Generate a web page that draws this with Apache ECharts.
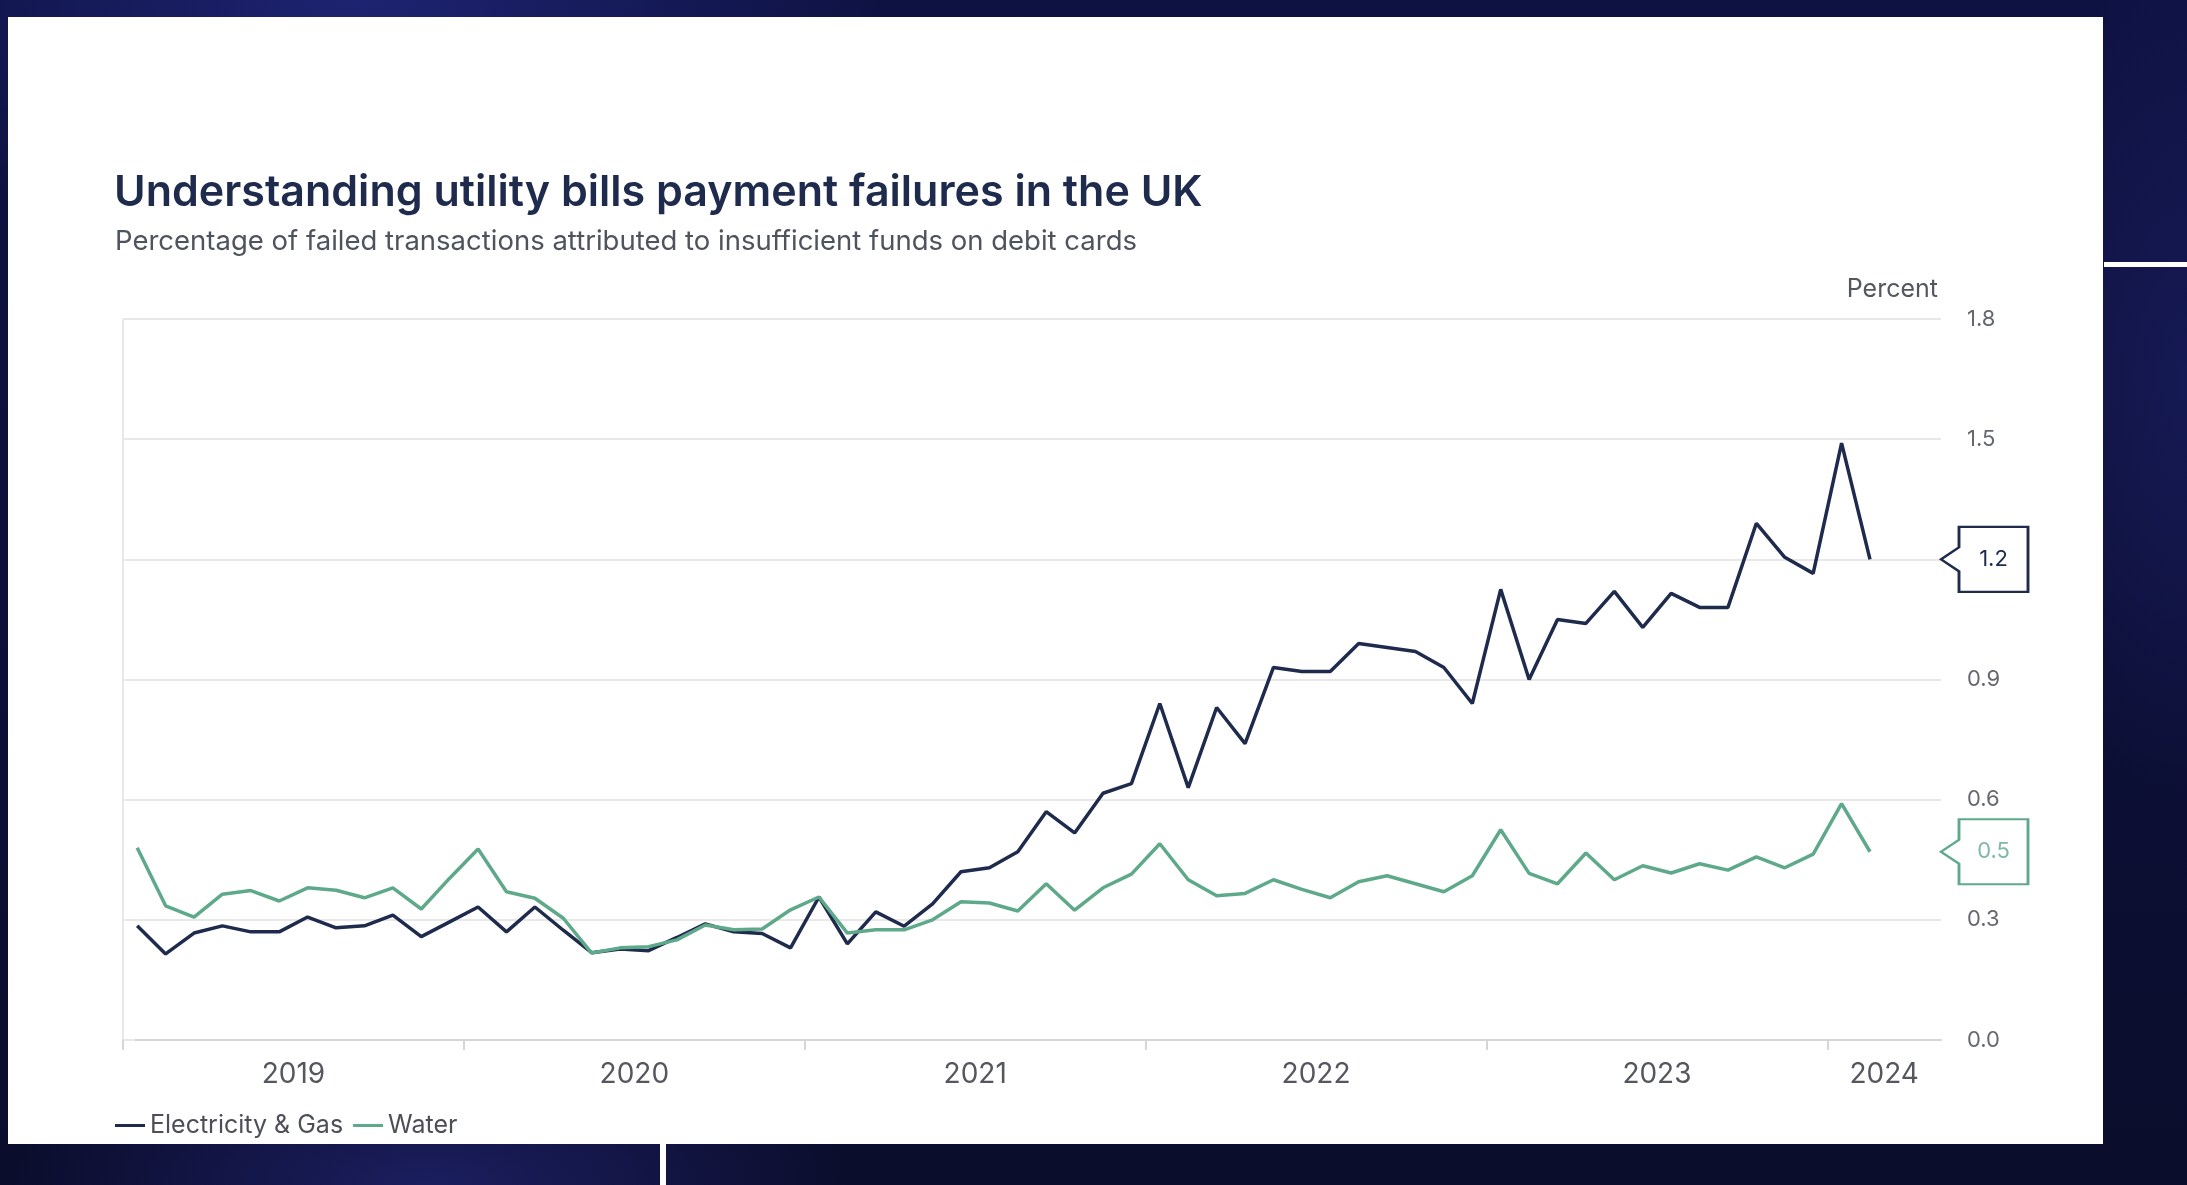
<!DOCTYPE html>
<html>
<head>
<meta charset="utf-8">
<title>Utility bills payment failures in the UK</title>
<script src="https://cdn.jsdelivr.net/npm/echarts@6/dist/echarts.min.js"></script>
<style>
  html, body { margin: 0; padding: 0; }
  body {
    width: 2187px; height: 1185px; overflow: hidden; position: relative;
    background:
      radial-gradient(ellipse 520px 260px at 360px 0px, rgba(30,36,115,0.95) 0%, rgba(30,36,115,0) 100%),
      radial-gradient(ellipse 420px 160px at 430px 1185px, rgba(28,32,100,0.9) 0%, rgba(28,32,100,0) 100%),
      radial-gradient(ellipse 200px 420px at 2187px 380px, rgba(24,28,90,0.8) 0%, rgba(24,28,90,0) 100%),
      linear-gradient(180deg, #0e1243 0%, #0b0d2c 100%);
  }
  #panel { position: absolute; left: 8px; top: 17px; width: 2095px; height: 1127px; background: #ffffff; }
  #chart { width: 2095px; height: 1127px; }
  .rule { position: absolute; background: #ffffff; }
</style>
</head>
<body>
<div id="panel"><div id="chart"></div></div>
<div class="rule" style="left:2104px; top:262px; width:83px; height:5px;"></div>
<div class="rule" style="left:660px; top:1144px; width:6px; height:41px;"></div>
<script>
// Monthly observations, January 2019 to February 2024
const months = [
  '2019-01','2019-02','2019-03','2019-04','2019-05','2019-06','2019-07','2019-08','2019-09','2019-10','2019-11','2019-12',
  '2020-01','2020-02','2020-03','2020-04','2020-05','2020-06','2020-07','2020-08','2020-09','2020-10','2020-11','2020-12',
  '2021-01','2021-02','2021-03','2021-04','2021-05','2021-06','2021-07','2021-08','2021-09','2021-10','2021-11','2021-12',
  '2022-01','2022-02','2022-03','2022-04','2022-05','2022-06','2022-07','2022-08','2022-09','2022-10','2022-11','2022-12',
  '2023-01','2023-02','2023-03','2023-04','2023-05','2023-06','2023-07','2023-08','2023-09','2023-10','2023-11','2023-12',
  '2024-01','2024-02'
];

// Share of failed transactions due to insufficient funds (%)
const electricityGas = [
  0.285, 0.215, 0.267, 0.285, 0.27, 0.27, 0.307, 0.28, 0.285, 0.312, 0.258, 0.295,
  0.332, 0.27, 0.332, 0.274, 0.218, 0.227, 0.223, 0.256, 0.29, 0.27, 0.266, 0.23,
  0.357, 0.24, 0.32, 0.284, 0.34, 0.42, 0.43, 0.47, 0.57, 0.517, 0.616, 0.64,
  0.84, 0.63, 0.83, 0.74, 0.93, 0.92, 0.92, 0.99, 0.98, 0.97, 0.93, 0.84,
  1.125, 0.90, 1.05, 1.04, 1.12, 1.03, 1.115, 1.08, 1.08, 1.29, 1.205, 1.165,
  1.49, 1.20
];
const water = [
  0.48, 0.335, 0.307, 0.364, 0.373, 0.347, 0.38, 0.374, 0.355, 0.38, 0.327, 0.404,
  0.477, 0.37, 0.354, 0.304, 0.217, 0.23, 0.233, 0.25, 0.287, 0.275, 0.277, 0.325,
  0.357, 0.267, 0.275, 0.275, 0.30, 0.345, 0.342, 0.322, 0.39, 0.324, 0.38, 0.414,
  0.49, 0.40, 0.36, 0.366, 0.40, 0.376, 0.355, 0.395, 0.41, 0.39, 0.37, 0.41,
  0.525, 0.416, 0.39, 0.467, 0.40, 0.435, 0.417, 0.44, 0.424, 0.457, 0.43, 0.464,
  0.59, 0.47
];

const yearLabels = ['2019', '2020', '2021', '2022', '2023', '2024'];
const seriesNames = ['Electricity & Gas', 'Water'];

const TITLE = 'Understanding utility bills payment failures in the UK';
const SUBTITLE = 'Percentage of failed transactions attributed to insufficient funds on debit cards';
const UNIT = 'Percent';

const NAVY = '#1f2b4d';
const GREEN = '#5fa98b';
const FONT = 'Inter, "Noto Sans", "Open Sans", sans-serif';

// x runs in months from the start of January 2019; each point sits mid-month
const X_MAX = 64;
const monthPos = i => i + 0.5;
const yearStarts = yearLabels.map((_, k) => k * 12);
const yearCenters = yearLabels.map((_, k) => (k * 12 + Math.min(k * 12 + 12, X_MAX)) / 2);

// callout with a pointer on its left edge, tip at the axis
const CALLOUT = 'path://M0,32.5 L18,20.5 L18,0 L87,0 L87,65 L18,65 L18,44.5 Z';

function lastValueMarker(values, border, textColor) {
  const last = values[values.length - 1];
  return {
    silent: true,
    symbol: CALLOUT,
    symbolSize: [87, 65],
    symbolOffset: ['50%', 0],
    itemStyle: { color: '#ffffff', borderColor: border, borderWidth: 2.5 },
    label: {
      show: true, position: 'inside', offset: [9, 0],
      formatter: p => Number(p.value).toFixed(1),
      fontFamily: FONT, fontSize: 22, color: textColor
    },
    data: [{ coord: [X_MAX, last], value: last }]
  };
}

const chart = echarts.init(document.getElementById('chart'), null, { renderer: 'canvas' });

chart.setOption({
  animation: false,
  textStyle: { fontFamily: FONT },
  title: [
    {
      text: TITLE, left: 101, top: 150,
      textStyle: { fontFamily: FONT, fontSize: 43, fontWeight: 600, color: NAVY }
    },
    {
      text: SUBTITLE, left: 102, top: 206,
      textStyle: { fontFamily: FONT, fontSize: 27.5, fontWeight: 400, color: '#4f535d' }
    },
    {
      text: UNIT, right: 160, top: 255,
      textStyle: { fontFamily: FONT, fontSize: 25, fontWeight: 400, color: '#55575f' }
    }
  ],
  grid: { left: 115, top: 302, width: 1818, height: 721, containLabel: false, outerBoundsMode: 'none' },
  legend: {
    left: 102, top: 1091,
    icon: 'rect', itemWidth: 30, itemHeight: 3, itemGap: 10,
    textStyle: { fontFamily: FONT, fontSize: 25, color: '#4d4f58' },
    data: seriesNames
  },
  xAxis: {
    type: 'value', min: 0, max: X_MAX,
    axisLine: { show: true, lineStyle: { color: '#d6d6d6', width: 2 } },
    axisTick: { show: true, customValues: yearStarts, length: 10, lineStyle: { color: '#d6d6d6', width: 2 } },
    axisLabel: {
      customValues: yearCenters,
      formatter: v => {
        const k = yearCenters.findIndex(c => Math.abs(c - v) < 1e-6);
        return k >= 0 ? yearLabels[k] : '';
      },
      margin: 21, fontFamily: FONT, fontSize: 28, color: '#55575f'
    },
    splitLine: { show: false }
  },
  yAxis: {
    type: 'value', position: 'right', min: 0, max: 1.8, interval: 0.3,
    axisLine: { show: true, lineStyle: { color: '#e8e8e8', width: 2 } },
    axisTick: { show: true, length: 12, lineStyle: { color: '#e8e8e8', width: 2 } },
    axisLabel: { margin: 26, formatter: v => v.toFixed(1), fontFamily: FONT, fontSize: 22, color: '#666870' },
    splitLine: { show: true, lineStyle: { color: '#e8e8e8', width: 2 } }
  },
  series: [
    {
      name: seriesNames[0], type: 'line', symbol: 'none',
      data: electricityGas.map((v, i) => [monthPos(i), v]),
      lineStyle: { color: NAVY, width: 3.5 }, itemStyle: { color: NAVY },
      emphasis: { disabled: true },
      markPoint: lastValueMarker(electricityGas, NAVY, NAVY)
    },
    {
      name: seriesNames[1], type: 'line', symbol: 'none',
      data: water.map((v, i) => [monthPos(i), v]),
      lineStyle: { color: GREEN, width: 3.5 }, itemStyle: { color: GREEN },
      emphasis: { disabled: true },
      markPoint: lastValueMarker(water, GREEN, '#7fb8a2')
    }
  ]
});
</script>
</body>
</html>
